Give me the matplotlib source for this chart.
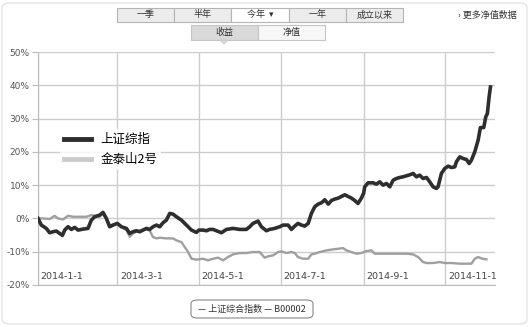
import numpy as np
import pandas as pd
import matplotlib
matplotlib.use("Agg")
from matplotlib import pyplot as plt
from matplotlib.patches import FancyBboxPatch, Rectangle, Polygon
from matplotlib.lines import Line2D

plt.rcParams['font.family'] = ['Noto Sans CJK SC', 'DejaVu Sans']

# days since 2014-01-01, return in %
idx_days = [0, 2.5, 6.2, 8.7, 11.2, 13.7, 16.2, 18.2, 19.9, 22.4, 24.9, 27.4, 29.9, 33.6, 37.3,
            39.8, 42.3, 46, 48.5, 51, 53.5, 56, 59.2, 62.2, 66, 68.4, 70.9, 73.4, 75.9, 78.4,
            80.9, 83.4, 85.8, 88.4, 90.8, 93.3, 95.8, 98.3, 100.7, 103.3, 107, 110.7, 114.5,
            118.2, 120.1, 123.1, 125.7, 128.1, 130.6, 133.1, 136.9, 140.6, 145.5, 150.5, 155.5,
            158, 160.4, 164.2, 166.7, 170.4, 172.9, 176.6, 180.4, 182.8, 186.6, 189.1, 191.6,
            194, 196.6, 199, 201.6, 204, 206.5, 209, 211.5, 214, 216.6, 219, 221.4, 224, 226.4,
            228.9, 231.4, 233.9, 236.3, 238.8, 241.3, 243, 243.8, 246.3, 250, 252.5, 255, 257.5,
            260, 262.5, 265, 267.5, 269.9, 272.4, 274.9, 277.4, 279.9, 282.4, 284.8, 287.3,
            289.9, 292.3, 294.8, 297.3, 298.5, 301, 303.5, 306, 308.5, 311, 312.2, 314.7, 317.2,
            319.7, 321.7, 323.4, 325.9, 328.4, 330.1, 332.6, 334.1, 335.3, 336.6, 337.6]
idx_vals = [0, -2.0, -3.0, -4.3, -4.0, -3.8, -4.5, -5.1, -3.5, -2.5, -3.3, -2.7, -3.5, -3.2, -3.0,
            -0.5, 0.5, 1.0, 1.8, 0, -2.5, -2.0, -1.5, -2.5, -3.0, -4.5, -4.0, -3.7, -4.0, -3.5,
            -3.0, -3.3, -2.5, -2.0, -2.5, -1.3, -0.5, 1.5, 1.3, 0.5, -0.5, -2.0, -3.5,
            -4.2, -3.5, -3.5, -3.7, -3.3, -3.3, -3.7, -4.3, -3.3, -3.0, -3.3, -3.3,
            -2.5, -1.5, -0.8, -2.5, -3.7, -3.3, -3.0, -2.5, -2.0, -2.0, -3.3, -2.3,
            -1.5, -2.0, -2.3, -1.5, 1.5, 3.5, 4.3, 4.7, 5.6, 4.3, 5.4, 5.8, 6.1, 6.6,
            7.1, 6.6, 6.1, 5.4, 4.5, 6.1, 7.6, 9.5, 10.7, 10.7, 10.3, 11.0, 10.0,
            10.5, 9.5, 11.5, 12.0, 12.3, 12.5, 12.8, 13.1, 13.5, 12.5, 13.0, 12.0,
            12.3, 11.0, 9.5, 9.0, 9.5, 13.5, 15.0, 15.7, 15.3, 15.5, 17.0, 18.5, 18.0,
            17.7, 16.5, 17.5, 20.0, 23.5, 27.3, 27.3, 30.5, 31.5, 36.5, 39.5]

fund_days = [0, 3.7, 8.7, 12.4, 14.9, 18.7, 22.4, 26.1, 31.1, 36.1, 39.8, 43.5, 46, 48.5, 51,
             53.5, 56, 59.2, 62.2, 66, 68.4, 70.9, 73.4, 77.1, 80.9, 83.4, 85.8, 88.4, 90.8,
             95.8, 100.7, 103.3, 107, 109.5, 112, 114.5, 118.2, 123.1, 126.9, 130.6, 134.4,
             138.1, 141.8, 145.5, 150.5, 155.5, 160.4, 165.4, 169.1, 171.6, 175.4, 179.1,
             181.6, 185.4, 189.1, 191.6, 194, 197.8, 201.6, 204, 206.5, 210.2, 215.2, 220.1,
             224, 227.6, 230.1, 233.9, 237.6, 241.3, 245, 248.8, 251.3, 255, 260, 265, 270,
             274.9, 279.9, 283.6, 287.3, 289.9, 294.8, 299.8, 303.5, 308.5, 314.7, 319.7,
             323.4, 325.9, 328.4, 331.6, 334.6]
fund_vals = [0, 0, -0.2, 0.8, 0, -0.3, 0.8, 0.5, 0.5, 0.5, 1.0, 0.7, 0.5, 1.5, 0,
             -2.3, -1.8, -1.5, -2.5, -3.5, -5.5, -4.5, -4.0, -3.5, -3.3, -3.7, -5.6, -6.0, -5.8,
             -6.0, -6.0, -6.6, -7.1, -8.6, -10.1, -12.1, -12.4, -12.1, -12.6, -12.1, -11.8,
             -12.6, -11.6, -10.8, -10.4, -10.4, -10.1, -10.1, -11.8, -11.4, -11.1, -10.1,
             -9.9, -10.4, -10.1, -10.4, -11.6, -12.1, -12.1, -10.8, -10.6, -10.1, -9.6, -9.3,
             -9.1, -8.9, -9.6, -10.1, -10.6, -10.4, -9.8, -9.6, -10.6, -10.6, -10.6, -10.6, -10.6,
             -10.6, -10.8, -11.6, -13.1, -13.4, -13.4, -13.1, -13.4, -13.4, -13.6, -13.6,
             -13.6, -12.1, -11.6, -12.1, -12.3]

tick_dates = ["2014-1-1", "2014-3-1", "2014-5-1", "2014-7-1", "2014-9-1", "2014-11-1"]
y_ticks = [-20, -10, 0, 10, 20, 30, 40, 50]
periods = ["一季", "半年", "今年", "一年", "成立以来"]
modes = ["收益", "净值"]
series_names = ["上证综指", "金泰山2号"]

start = pd.Timestamp("2014-01-01")
idx_x = start + pd.to_timedelta(idx_days, unit="D")
fund_x = start + pd.to_timedelta(fund_days, unit="D")
tick_x = pd.to_datetime(tick_dates, format="%Y-%m-%d")

W, H = 530, 327
fig = plt.figure(figsize=(W / 100, H / 100), dpi=100)
fig.patch.set_facecolor("white")

def fx(x):
    return x / W

def fy(y):
    return 1 - y / H

ax = fig.add_axes([fx(38), fy(285), fx(495) - fx(38), fy(52) - fy(285)])
ax.plot(fund_x, fund_vals, color="#9f9f9f", lw=1.7, solid_joinstyle="round", zorder=3)
ax.plot(idx_x, idx_vals, color="#2e2e2e", lw=2.6, solid_joinstyle="round", zorder=4)

ax.set_xlim(start, start + pd.Timedelta(days=341))
ax.set_ylim(-20, 50)
ax.set_xticks(tick_x)
ax.set_xticklabels([])
ax.set_yticks(y_ticks)
ax.set_yticklabels([f"{v}%" for v in y_ticks], fontsize=6.5, color="#555555",
                   family="DejaVu Sans")
ax.tick_params(axis="y", length=4, width=0.8, color="#bbbbbb", pad=2)
ax.tick_params(axis="x", length=0)
ax.grid(True, color="#cccccc", lw=1)
for s in ["top", "right"]:
    ax.spines[s].set_visible(False)
for s in ["left", "bottom"]:
    ax.spines[s].set_color("#bbbbbb")
for t, lab in zip(tick_x, tick_dates):
    ax.annotate(lab, (t, -20), xytext=(2, 3), textcoords="offset points",
                fontsize=6.8, color="#444444", family="DejaVu Sans", va="bottom", ha="left")

handles = [Line2D([], [], color="#2e2e2e", lw=3.5), Line2D([], [], color="#cccccc", lw=3.5)]
leg = ax.legend(handles, series_names, loc="upper left", bbox_to_anchor=(0.035, 0.695),
                frameon=True, fontsize=9, handlelength=2.2, handletextpad=0.7,
                labelspacing=0.55, borderpad=0.3)
leg.get_frame().set_edgecolor("none")
leg.get_frame().set_alpha(0.8)

# top period buttons
x0, x1, yt, yb = 117, 403, 8, 22
bw = (x1 - x0) / len(periods)
for i, p in enumerate(periods):
    face = "white" if p == "今年" else "#ececec"
    fig.patches.append(Rectangle((fx(x0 + i * bw), fy(yb)), bw / W, (yb - yt) / H,
                                 transform=fig.transFigure, facecolor=face,
                                 edgecolor="#b5b5b5", lw=0.8))
    label = p + "  ▾" if p == "今年" else p
    fig.text(fx(x0 + (i + 0.5) * bw), fy((yt + yb) / 2), label, fontsize=6.5,
             ha="center", va="center", color="#333333",
             family=["Noto Sans CJK SC", "DejaVu Sans"])

# mode toggle
m0, m1, mt, mb = 191, 325, 25, 40
mw = (m1 - m0) / len(modes)
for i, m in enumerate(modes):
    face = "#d9d9d9" if i == 0 else "#f7f7f7"
    fig.patches.append(Rectangle((fx(m0 + i * mw), fy(mb)), mw / W, (mb - mt) / H,
                                 transform=fig.transFigure, facecolor=face,
                                 edgecolor="#c5c5c5", lw=0.8))
    fig.text(fx(m0 + (i + 0.5) * mw), fy((mt + mb) / 2), m, fontsize=6.5,
             ha="center", va="center", color="#333333")
fig.patches.append(Polygon([[fx(220), fy(40)], [fx(228), fy(40)], [fx(224), fy(44)]],
                           closed=True, transform=fig.transFigure, facecolor="#d9d9d9",
                           edgecolor="#c5c5c5", lw=0.6))
fig.text(fx(458), fy(15), "› 更多净值数据", fontsize=6.5, ha="left", va="center",
         color="#333333")

# bottom legend box
fig.patches.append(FancyBboxPatch((fx(191), fy(318)), fx(313) - fx(191), (318 - 300) / H,
                                  boxstyle="round,pad=0,rounding_size=0.012",
                                  transform=fig.transFigure, facecolor="white",
                                  edgecolor="#888888", lw=0.8))
fig.text(fx(252), fy(309), "— 上证综合指数 — B00002", fontsize=6.5, ha="center",
         va="center", color="#333333")

# outer frame
fig.patches.append(FancyBboxPatch((fx(2), fy(324)), fx(527) - fx(2), (324 - 3) / H,
                                  boxstyle="round,pad=0,rounding_size=0.015",
                                  transform=fig.transFigure, facecolor="none",
                                  edgecolor="#dddddd", lw=0.8))

fig.savefig("out.png", dpi=100)
